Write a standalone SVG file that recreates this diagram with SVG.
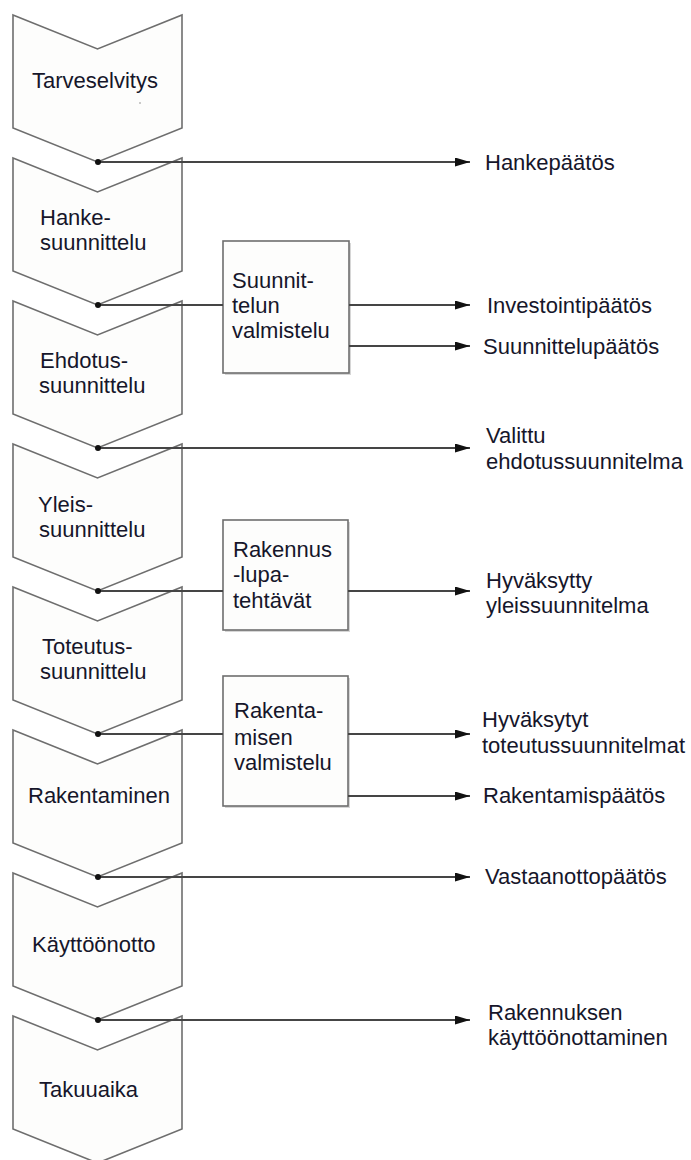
<svg xmlns="http://www.w3.org/2000/svg" width="691" height="1160" viewBox="0 0 691 1160">
<style>
.chev{fill:#fdfdfc;stroke:#6e6e6e;stroke-width:1.6;stroke-linejoin:miter}
.shadow{fill:none;stroke:#d8d8d8;stroke-width:2}
.box{fill:#fdfdfc;stroke:#6e6e6e;stroke-width:1.6}
.t{font-family:"Liberation Sans",Arial,sans-serif;font-size:22px;fill:#16162a}
.c{stroke:#454545;stroke-width:1.8;fill:none}
.a{stroke:#454545;stroke-width:1.8;fill:none;marker-end:url(#arr)}
.dot{fill:#111}
</style>
<defs>
<marker id="arr" markerUnits="userSpaceOnUse" markerWidth="16" markerHeight="10" refX="15" refY="4.5" orient="auto">
<path d="M0,0 L15,4.5 L0,9 Z" fill="#111"/>
</marker>
<polygon id="chevshape" points="13,0 97.5,34 182,0 182,113 97.5,147 13,113"/>
</defs>
<rect width="691" height="1160" fill="#ffffff"/>

<g id="chev1"><polygon class="chev" points="13,15 97.5,49 182,15 182,128 97.5,162 13,128"/><text class="t" x="32" y="88">Tarveselvitys</text><circle cx="140" cy="103" r="0.8" fill="#888"/></g>
<g id="chev2"><polygon class="chev" points="13,158 97.5,192 182,158 182,271 97.5,305 13,271"/><text class="t" x="40" y="225">Hanke-</text><text class="t" x="40" y="250">suunnittelu</text></g>
<g id="chev3"><polygon class="chev" points="13,301 97.5,335 182,301 182,414 97.5,448 13,414"/><text class="t" x="40" y="368">Ehdotus-</text><text class="t" x="39" y="393">suunnittelu</text></g>
<g id="chev4"><polygon class="chev" points="13,444 97.5,478 182,444 182,557 97.5,591 13,557"/><text class="t" x="38" y="512">Yleis-</text><text class="t" x="39" y="537">suunnittelu</text></g>
<g id="chev5"><polygon class="chev" points="13,587 97.5,621 182,587 182,700 97.5,734 13,700"/><text class="t" x="42" y="654">Toteutus-</text><text class="t" x="40" y="679">suunnittelu</text></g>
<g id="chev6"><polygon class="chev" points="13,730 97.5,764 182,730 182,843 97.5,877 13,843"/><text class="t" x="28" y="803">Rakentaminen</text></g>
<g id="chev7"><polygon class="chev" points="13,873 97.5,907 182,873 182,986 97.5,1020 13,986"/><text class="t" x="32" y="952">Käyttöönotto</text></g>
<g id="chev8"><polygon class="chev" points="13,1016 97.5,1050 182,1016 182,1129 97.5,1163 13,1129"/><text class="t" x="39" y="1097">Takuuaika</text></g>

<g id="box1"><rect x="225" y="243" width="126" height="132" fill="#d6d6d6"/><rect class="box" x="223" y="241" width="126" height="132"/><text class="t" x="232" y="288">Suunnit-</text><text class="t" x="232" y="313">telun</text><text class="t" x="232" y="338">valmistelu</text></g>
<g id="box2"><rect x="225" y="522" width="125" height="110" fill="#d6d6d6"/><rect class="box" x="223" y="520" width="125" height="110"/><text class="t" x="233" y="557">Rakennus</text><text class="t" x="233" y="582">-lupa-</text><text class="t" x="233" y="608">tehtävät</text></g>
<g id="box3"><rect x="225" y="678" width="125" height="130" fill="#d6d6d6"/><rect class="box" x="223" y="676" width="125" height="130"/><text class="t" x="234" y="718">Rakenta-</text><text class="t" x="234" y="745">misen</text><text class="t" x="234" y="770">valmistelu</text></g>

<g id="connectors">
<line class="a" x1="98" y1="162" x2="470" y2="162"/>
<line class="c" x1="98" y1="305" x2="223" y2="305"/>
<line class="a" x1="349" y1="305" x2="470" y2="305"/>
<line class="a" x1="349" y1="346" x2="470" y2="346"/>
<line class="a" x1="98" y1="448" x2="470" y2="448"/>
<line class="c" x1="98" y1="591" x2="223" y2="591"/>
<line class="a" x1="348" y1="591" x2="470" y2="591"/>
<line class="c" x1="98" y1="734" x2="223" y2="734"/>
<line class="a" x1="348" y1="734" x2="470" y2="734"/>
<line class="a" x1="348" y1="796" x2="470" y2="796"/>
<line class="a" x1="98" y1="877" x2="470" y2="877"/>
<line class="a" x1="98" y1="1020" x2="470" y2="1020"/>
<circle class="dot" cx="98" cy="162" r="3"/>
<circle class="dot" cx="98" cy="305" r="3"/>
<circle class="dot" cx="98" cy="448" r="3"/>
<circle class="dot" cx="98" cy="591" r="3"/>
<circle class="dot" cx="98" cy="734" r="3"/>
<circle class="dot" cx="98" cy="877" r="3"/>
<circle class="dot" cx="98" cy="1020" r="3"/>
</g>

<g id="labels">
<text class="t" x="485" y="170">Hankepäätös</text>
<text class="t" x="487" y="313">Investointipäätös</text>
<text class="t" x="483" y="354">Suunnittelupäätös</text>
<text class="t" x="486" y="443">Valittu</text>
<text class="t" x="486" y="469">ehdotussuunnitelma</text>
<text class="t" x="486" y="588">Hyväksytty</text>
<text class="t" x="486" y="613">yleissuunnitelma</text>
<text class="t" x="482" y="727">Hyväksytyt</text>
<text class="t" x="482" y="753">toteutussuunnitelmat</text>
<text class="t" x="483" y="803">Rakentamispäätös</text>
<text class="t" x="485" y="884">Vastaanottopäätös</text>
<text class="t" x="488" y="1020">Rakennuksen</text>
<text class="t" x="488" y="1045">käyttöönottaminen</text>
</g>
</svg>
